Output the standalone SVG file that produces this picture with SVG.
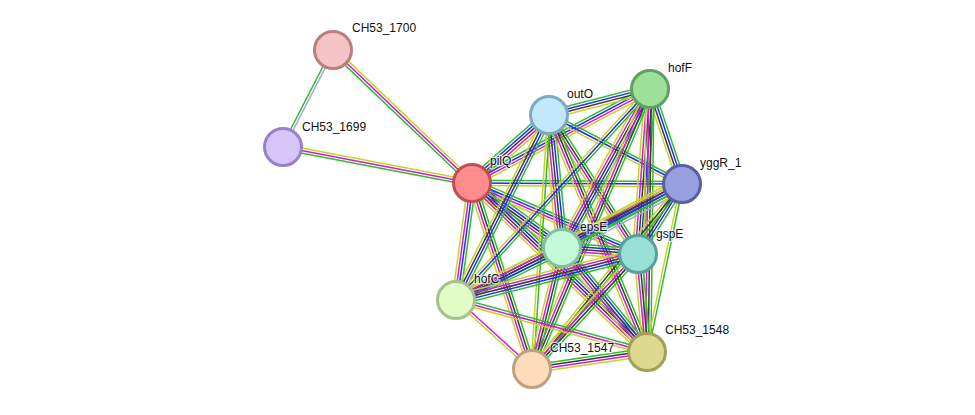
<svg xmlns="http://www.w3.org/2000/svg" width="975" height="415" viewBox="0 0 975 415">
<style>
.e line{stroke-width:1.5;fill:none}
.g{stroke:#2dbd2d}.b{stroke:#2a2af0}.k{stroke:#3a3a3a}.m{stroke:#d31ad3}.y{stroke:#c5d32a}.h{stroke:#a5a5f5}
.n circle{stroke-width:3}
text{font-family:"Liberation Sans",Arial,sans-serif;font-size:12px;fill:#111;stroke:#fff;stroke-width:2.5;stroke-opacity:0.7;paint-order:stroke}
</style>
<rect width="975" height="415" fill="#fff"/>
<g id="edges" class="e">
<g transform="translate(333 50) rotate(117.3)"><line class="h" x2="109" y1="-1.3" y2="-1.3"/><line class="g" x2="109" y1="1.3" y2="1.3"/></g>
<g transform="translate(333 50) rotate(43.7)"><line class="y" x2="192" y1="-2.6" y2="-2.6"/><line class="m" x2="192"/><line class="g" x2="192" y1="2.6" y2="2.6"/></g>
<g transform="translate(283 147) rotate(10.8)"><line class="y" x2="192" y1="-2.6" y2="-2.6"/><line class="m" x2="192"/><line class="g" x2="192" y1="2.6" y2="2.6"/></g>
<g transform="translate(472 183) rotate(-41.4)"><line class="g" x2="103" y1="-5.2" y2="-5.2"/><line class="b" x2="103" y1="-2.6" y2="-2.6"/><line class="k" x2="103"/><line class="m" x2="103" y1="2.6" y2="2.6"/><line class="y" x2="103" y1="5.2" y2="5.2"/></g>
<g transform="translate(472 183) rotate(-27.8)"><line class="g" x2="201" y1="-3.9" y2="-3.9"/><line class="b" x2="201" y1="-1.3" y2="-1.3"/><line class="m" x2="201" y1="1.3" y2="1.3"/><line class="y" x2="201" y1="3.9" y2="3.9"/></g>
<g transform="translate(472 183) rotate(0.3)"><line class="g" x2="210" y1="-2.6" y2="-2.6"/><line class="b" x2="210"/><line class="y" x2="210" y1="2.6" y2="2.6"/></g>
<g transform="translate(472 183) rotate(35.8)"><line class="g" x2="111" y1="-5.2" y2="-5.2"/><line class="b" x2="111" y1="-2.6" y2="-2.6"/><line class="k" x2="111"/><line class="m" x2="111" y1="2.6" y2="2.6"/><line class="y" x2="111" y1="5.2" y2="5.2"/></g>
<g transform="translate(472 183) rotate(23.2)"><line class="g" x2="180" y1="-3.9" y2="-3.9"/><line class="b" x2="180" y1="-1.3" y2="-1.3"/><line class="m" x2="180" y1="1.3" y2="1.3"/><line class="y" x2="180" y1="3.9" y2="3.9"/></g>
<g transform="translate(472 183) rotate(97.8)"><line class="g" x2="118" y1="-3.9" y2="-3.9"/><line class="b" x2="118" y1="-1.3" y2="-1.3"/><line class="m" x2="118" y1="1.3" y2="1.3"/><line class="y" x2="118" y1="3.9" y2="3.9"/></g>
<g transform="translate(472 183) rotate(72.1)"><line class="g" x2="195" y1="-3.9" y2="-3.9"/><line class="k" x2="195" y1="-1.3" y2="-1.3"/><line class="m" x2="195" y1="1.3" y2="1.3"/><line class="y" x2="195" y1="3.9" y2="3.9"/></g>
<g transform="translate(472 183) rotate(44)"><line class="g" x2="243" y1="-5.2" y2="-5.2"/><line class="b" x2="243" y1="-2.6" y2="-2.6"/><line class="k" x2="243"/><line class="m" x2="243" y1="2.6" y2="2.6"/><line class="y" x2="243" y1="5.2" y2="5.2"/></g>
<g transform="translate(549 115) rotate(-14.4)"><line class="g" x2="104" y1="-3.9" y2="-3.9"/><line class="b" x2="104" y1="-1.3" y2="-1.3"/><line class="k" x2="104" y1="1.3" y2="1.3"/><line class="y" x2="104" y1="3.9" y2="3.9"/></g>
<g transform="translate(549 115) rotate(27.4)"><line class="g" x2="150" y1="-2.6" y2="-2.6"/><line class="b" x2="150"/><line class="y" x2="150" y1="2.6" y2="2.6"/></g>
<g transform="translate(549 115) rotate(84.4)"><line class="g" x2="134" y1="-5.2" y2="-5.2"/><line class="b" x2="134" y1="-2.6" y2="-2.6"/><line class="k" x2="134"/><line class="m" x2="134" y1="2.6" y2="2.6"/><line class="y" x2="134" y1="5.2" y2="5.2"/></g>
<g transform="translate(549 115) rotate(57.4)"><line class="g" x2="165" y1="-3.9" y2="-3.9"/><line class="k" x2="165" y1="-1.3" y2="-1.3"/><line class="m" x2="165" y1="1.3" y2="1.3"/><line class="y" x2="165" y1="3.9" y2="3.9"/></g>
<g transform="translate(549 115) rotate(116.7)"><line class="g" x2="207" y1="-3.9" y2="-3.9"/><line class="b" x2="207" y1="-1.3" y2="-1.3"/><line class="k" x2="207" y1="1.3" y2="1.3"/><line class="y" x2="207" y1="3.9" y2="3.9"/></g>
<g transform="translate(549 115) rotate(93.8)"><line class="g" x2="255" y1="-1.3" y2="-1.3"/><line class="y" x2="255" y1="1.3" y2="1.3"/></g>
<g transform="translate(549 115) rotate(67.5)"><line class="g" x2="256" y1="-3.9" y2="-3.9"/><line class="k" x2="256" y1="-1.3" y2="-1.3"/><line class="m" x2="256" y1="1.3" y2="1.3"/><line class="y" x2="256" y1="3.9" y2="3.9"/></g>
<g transform="translate(650 89) rotate(71.4)"><line class="g" x2="100" y1="-3.9" y2="-3.9"/><line class="b" x2="100" y1="-1.3" y2="-1.3"/><line class="k" x2="100" y1="1.3" y2="1.3"/><line class="y" x2="100" y1="3.9" y2="3.9"/></g>
<g transform="translate(650 89) rotate(119)"><line class="g" x2="182" y1="-5.2" y2="-5.2"/><line class="b" x2="182" y1="-2.6" y2="-2.6"/><line class="k" x2="182"/><line class="m" x2="182" y1="2.6" y2="2.6"/><line class="y" x2="182" y1="5.2" y2="5.2"/></g>
<g transform="translate(650 89) rotate(94.2)"><line class="g" x2="165" y1="-5.2" y2="-5.2"/><line class="b" x2="165" y1="-2.6" y2="-2.6"/><line class="k" x2="165"/><line class="m" x2="165" y1="2.6" y2="2.6"/><line class="y" x2="165" y1="5.2" y2="5.2"/></g>
<g transform="translate(650 89) rotate(132.6)"><line class="g" x2="287" y1="-2.6" y2="-2.6"/><line class="b" x2="287"/><line class="y" x2="287" y1="2.6" y2="2.6"/></g>
<g transform="translate(650 89) rotate(112.9)"><line class="g" x2="304" y1="-3.9" y2="-3.9"/><line class="k" x2="304" y1="-1.3" y2="-1.3"/><line class="m" x2="304" y1="1.3" y2="1.3"/><line class="y" x2="304" y1="3.9" y2="3.9"/></g>
<g transform="translate(650 89) rotate(90.65)"><line class="g" x2="263" y1="-3.9" y2="-3.9"/><line class="k" x2="263" y1="-1.3" y2="-1.3"/><line class="m" x2="263" y1="1.3" y2="1.3"/><line class="y" x2="263" y1="3.9" y2="3.9"/></g>
<g transform="translate(682 184) rotate(151.9)"><line class="h" x2="136" y1="-6.5" y2="-6.5"/><line class="g" x2="136" y1="-3.9" y2="-3.9"/><line class="b" x2="136" y1="-1.3" y2="-1.3"/><line class="k" x2="136" y1="1.3" y2="1.3"/><line class="m" x2="136" y1="3.9" y2="3.9"/><line class="y" x2="136" y1="6.5" y2="6.5"/></g>
<g transform="translate(682 184) rotate(122.2)"><line class="g" x2="83" y1="-3.9" y2="-3.9"/><line class="b" x2="83" y1="-1.3" y2="-1.3"/><line class="k" x2="83" y1="1.3" y2="1.3"/><line class="y" x2="83" y1="3.9" y2="3.9"/></g>
<g transform="translate(682 184) rotate(152.8)"><line class="g" x2="254" y1="-3.9" y2="-3.9"/><line class="b" x2="254" y1="-1.3" y2="-1.3"/><line class="k" x2="254" y1="1.3" y2="1.3"/><line class="y" x2="254" y1="3.9" y2="3.9"/></g>
<g transform="translate(682 184) rotate(129)"><line class="g" x2="238" y1="-2.6" y2="-2.6"/><line class="k" x2="238"/><line class="y" x2="238" y1="2.6" y2="2.6"/></g>
<g transform="translate(682 184) rotate(101.8)"><line class="g" x2="172" y1="-1.3" y2="-1.3"/><line class="y" x2="172" y1="1.3" y2="1.3"/></g>
<g transform="translate(562 248) rotate(4.5)"><line class="g" x2="76" y1="-5.2" y2="-5.2"/><line class="b" x2="76" y1="-2.6" y2="-2.6"/><line class="k" x2="76"/><line class="m" x2="76" y1="2.6" y2="2.6"/><line class="y" x2="76" y1="5.2" y2="5.2"/></g>
<g transform="translate(562 248) rotate(153.9)"><line class="g" x2="118" y1="-5.2" y2="-5.2"/><line class="b" x2="118" y1="-2.6" y2="-2.6"/><line class="k" x2="118"/><line class="m" x2="118" y1="2.6" y2="2.6"/><line class="y" x2="118" y1="5.2" y2="5.2"/></g>
<g transform="translate(562 248) rotate(103.9)"><line class="g" x2="125" y1="-3.9" y2="-3.9"/><line class="k" x2="125" y1="-1.3" y2="-1.3"/><line class="m" x2="125" y1="1.3" y2="1.3"/><line class="y" x2="125" y1="3.9" y2="3.9"/></g>
<g transform="translate(562 248) rotate(50.7)"><line class="g" x2="134" y1="-5.2" y2="-5.2"/><line class="b" x2="134" y1="-2.6" y2="-2.6"/><line class="k" x2="134"/><line class="m" x2="134" y1="2.6" y2="2.6"/><line class="y" x2="134" y1="5.2" y2="5.2"/></g>
<g transform="translate(638 254) rotate(165.8)"><line class="g" x2="188" y1="-5.2" y2="-5.2"/><line class="b" x2="188" y1="-2.6" y2="-2.6"/><line class="k" x2="188"/><line class="m" x2="188" y1="2.6" y2="2.6"/><line class="y" x2="188" y1="5.2" y2="5.2"/></g>
<g transform="translate(638 254) rotate(132.7)"><line class="g" x2="156" y1="-3.9" y2="-3.9"/><line class="k" x2="156" y1="-1.3" y2="-1.3"/><line class="m" x2="156" y1="1.3" y2="1.3"/><line class="y" x2="156" y1="3.9" y2="3.9"/></g>
<g transform="translate(638 254) rotate(84.8)"><line class="g" x2="98" y1="-3.9" y2="-3.9"/><line class="k" x2="98" y1="-1.3" y2="-1.3"/><line class="m" x2="98" y1="1.3" y2="1.3"/><line class="y" x2="98" y1="3.9" y2="3.9"/></g>
<g transform="translate(456 300) rotate(42.2)"><line class="m" x2="103" y1="-1.3" y2="-1.3"/><line class="y" x2="103" y1="1.3" y2="1.3"/></g>
<g transform="translate(456 300) rotate(15.2)"><line class="g" x2="198" y1="-2.6" y2="-2.6"/><line class="m" x2="198"/><line class="y" x2="198" y1="2.6" y2="2.6"/></g>
<g transform="translate(532 369) rotate(-8.4)"><line class="g" x2="116" y1="-3.9" y2="-3.9"/><line class="k" x2="116" y1="-1.3" y2="-1.3"/><line class="m" x2="116" y1="1.3" y2="1.3"/><line class="y" x2="116" y1="3.9" y2="3.9"/></g>
</g>
<g id="CH53_1700" class="n"><circle cx="333" cy="50" r="18.5" fill="#f5c5c5" stroke="#b88080"/><text x="352" y="32">CH53_1700</text></g>
<g id="CH53_1699" class="n"><circle cx="283" cy="147" r="18.5" fill="#d5c5f8" stroke="#9a80c8"/><text x="302" y="131">CH53_1699</text></g>
<g id="pilQ" class="n"><circle cx="472" cy="183" r="18.5" fill="#ff8c8c" stroke="#c05050"/><text x="490" y="165">pilQ</text></g>
<g id="outO" class="n"><circle cx="549" cy="115" r="18.5" fill="#c2e8fb" stroke="#80a8c0"/><text x="567" y="98">outO</text></g>
<g id="hofF" class="n"><circle cx="650" cy="89" r="18.5" fill="#9de09a" stroke="#60a060"/><text x="668" y="72">hofF</text></g>
<g id="yggR_1" class="n"><circle cx="682" cy="184" r="18.5" fill="#96a0de" stroke="#5860a0"/><text x="700" y="167">yggR_1</text></g>
<g id="epsE" class="n"><circle cx="562" cy="248" r="18.5" fill="#c2fad8" stroke="#80c0a0"/><text x="580" y="231">epsE</text></g>
<g id="gspE" class="n"><circle cx="638" cy="254" r="18.5" fill="#98e0d6" stroke="#58a098"/><text x="656" y="238">gspE</text></g>
<g id="hofC" class="n"><circle cx="456" cy="300" r="18.5" fill="#e2fcc6" stroke="#a8c090"/><text x="474" y="283">hofC</text></g>
<g id="CH53_1547" class="n"><circle cx="532" cy="369" r="18.5" fill="#fddcbc" stroke="#c0a080"/><text x="550" y="352">CH53_1547</text></g>
<g id="CH53_1548" class="n"><circle cx="647" cy="352" r="18.5" fill="#dcd890" stroke="#a0a058"/><text x="665" y="334">CH53_1548</text></g>
</svg>
